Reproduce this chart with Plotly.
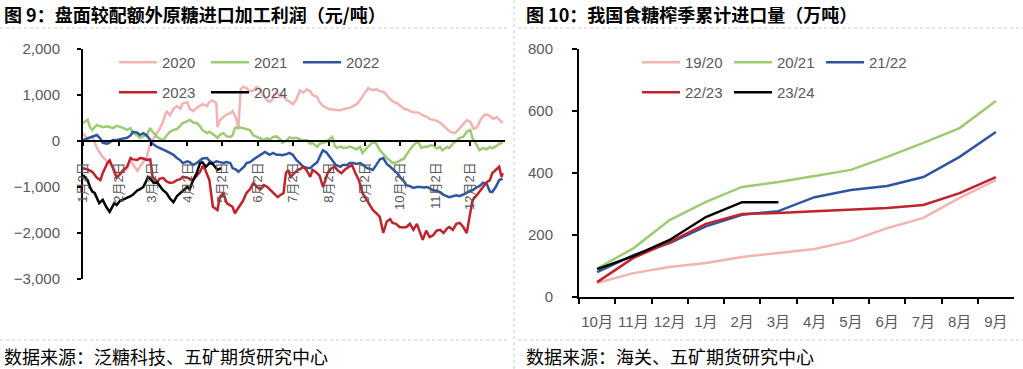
import numpy as np
import pandas as pd
import plotly.graph_objects as go

# ---------------- Left chart data (day-of-year, value in 元/吨) ----------------
d2020 = [2, 6, 10, 14, 19, 23, 28, 31, 36, 40, 43, 45, 49, 51, 54, 57, 60, 62, 66, 68, 71, 74, 77, 80, 83, 86, 88,
         92, 94, 97, 100, 103, 105, 109, 111, 114, 117, 118, 120, 123, 126, 129, 131, 134, 136, 138, 140, 143, 146,
         149, 152, 155, 157, 161, 163, 166, 169, 172, 174, 178, 180, 183, 186, 189, 192, 195, 198, 200, 204, 206,
         209, 212, 215, 219, 221, 224, 228, 232, 235, 238, 241, 244, 248, 250, 252, 255, 258, 261, 264, 267, 270,
         273, 276, 279, 282, 285, 288, 291, 295, 299, 301, 304, 307, 310, 313, 316, 319, 323, 327, 330, 333, 336,
         339, 342, 345, 348, 350, 353, 356, 359, 362, 364]
v2020 = [170, 50, 100, -150, -350, -450, -560, -700, -680, -600, -420, -500, -650, -560, -450, -350, -60, 20, 200,
         260, 420, 650, 560, 700, 760, 700, 820, 840, 700, 650, 720, 760, 800, 760, 850, 880, 820, 300, 450, 520,
         580, 600, 650, 500, 250, 1120, 1180, 1150, 1080, 1100, 1170, 1120, 1000, 880, 850, 920, 1070, 960, 1000,
         880, 860, 800, 900, 1100, 1050, 1120, 1080, 1000, 960, 850, 760, 720, 690, 680, 670, 670, 700, 720, 760,
         800, 890, 1000, 1150, 1120, 1100, 1130, 1080, 1070, 1000, 900, 850, 820, 760, 700, 680, 640, 620, 620,
         560, 520, 480, 460, 440, 400, 320, 260, 200, 170, 280, 360, 450, 420, 260, 300, 470, 560, 580, 540, 480,
         520, 430, 390]

d2021 = [2, 6, 8, 10, 14, 19, 23, 28, 31, 36, 40, 43, 45, 49, 51, 54, 57, 60, 62, 66, 68, 71, 74, 77, 80, 83, 86,
         88, 92, 94, 97, 100, 103, 105, 109, 111, 114, 118, 120, 123, 126, 129, 131, 133, 137, 140, 143, 146, 149,
         152, 155, 157, 161, 163, 166, 169, 172, 174, 178, 180, 183, 186, 189, 192, 195, 198, 200, 204, 206, 209,
         212, 215, 217, 219, 221, 224, 226, 230, 232, 235, 238, 241, 243, 247, 249, 252, 255, 258, 261, 264, 267,
         269, 273, 276, 279, 281, 284, 286, 290, 292, 294, 297, 299, 302, 304, 307, 310, 312, 316, 318, 321, 324,
         327, 330, 333, 336, 338, 342, 344, 347, 350, 353, 355, 359, 361, 364]
v2021 = [390, 460, 300, 240, 350, 300, 320, 280, 330, 290, 240, 280, 170, 120, 70, 100, 130, 280, 200, 90, 50, 20,
         120, 200, 240, 260, 330, 390, 430, 460, 400, 390, 320, 240, 170, 200, 150, 70, 130, 170, 100, 90, 120, 280,
         300, 280, 260, 240, 120, 90, 60, 20, 60, 30, 90, 100, 40, -40, 20, 80, 60, 70, 40, 10, 20, -60, -40, -130,
         -60, -40, -20, 50, 90, -100, -150, -120, -150, -140, -120, -150, -180, -130, -260, -150, -90, -20, -60,
         -200, -280, -370, -430, -480, -460, -420, -380, -300, -200, -120, -20, -60, -150, -120, -130, -90, -100,
         -160, -130, -200, -130, -150, -60, 0, 70, 90, 200, 240, 60, -100, -200, -150, -180, -130, -160, -100, -60,
         -40]

d2022 = [2, 6, 10, 14, 17, 19, 23, 26, 28, 32, 36, 40, 43, 45, 49, 51, 54, 57, 60, 62, 66, 68, 71, 74, 77, 80, 83,
         86, 88, 92, 94, 97, 100, 103, 105, 109, 111, 114, 117, 120, 123, 126, 129, 131, 134, 136, 139, 141, 143,
         146, 149, 152, 155, 157, 159, 161, 163, 166, 169, 172, 174, 178, 180, 183, 186, 189, 192, 195, 198, 201,
         204, 207, 209, 212, 215, 217, 220, 224, 226, 230, 232, 235, 238, 241, 244, 247, 249, 252, 255, 258, 261,
         264, 267, 270, 273, 276, 279, 281, 284, 287, 290, 293, 296, 299, 302, 304, 307, 310, 313, 316, 318, 321,
         324, 327, 330, 333, 336, 338, 342, 344, 347, 350, 353, 355, 358, 361, 364]
v2022 = [20, 60, 100, 130, 50, -40, -60, 0, 20, 30, 50, 70, 120, 200, 180, 130, 170, 120, 20, -60, -130, -150, -180,
         -220, -260, -300, -370, -420, -480, -440, -460, -520, -480, -410, -380, -370, -430, -480, -440, -460, -480,
         -460, -480, -590, -620, -670, -600, -560, -480, -460, -400, -350, -300, -280, -240, -270, -300, -260, -300,
         -300, -310, -280, -260, -300, -410, -480, -560, -580, -590, -520, -460, -300, -200, -250, -370, -420, -520,
         -560, -520, -520, -480, -480, -500, -480, -530, -590, -600, -630, -520, -400, -370, -500, -560, -620, -700,
         -800, -880, -960, -980, -1020, -1000, -1000, -1010, -1000, -1050, -1070, -1080, -1110, -1170, -1200, -1220,
         -1200, -1180, -1200, -1170, -1130, -1080, -1070, -1000, -980, -910, -920, -1100, -1110, -1000, -850, -820]

d2023 = [2, 6, 10, 14, 17, 19, 23, 25, 28, 31, 34, 36, 40, 43, 45, 49, 51, 54, 57, 60, 62, 66, 68, 71, 74, 77, 80,
         83, 86, 88, 92, 94, 97, 100, 103, 105, 107, 111, 114, 118, 120, 123, 126, 129, 131, 133, 137, 140, 143, 146,
         149, 152, 155, 158, 161, 164, 167, 170, 172, 175, 177, 179, 181, 184, 187, 190, 192, 195, 198, 200, 203, 206,
         209, 211, 213, 216, 219, 222, 225, 228, 231, 234, 237, 240, 243, 246, 249, 252, 255, 258, 261, 264, 267, 269,
         272, 275, 278, 281, 284, 287, 290, 293, 295, 298, 301, 304, 307, 310, 313, 316, 318, 321, 324, 327, 330, 333,
         335, 337, 338, 341, 344, 347, 350, 353, 355, 358, 361, 363, 364]
v2023 = [-590, -620, -670, -800, -850, -700, -480, -420, -600, -800, -720, -650, -560, -370, -400, -410, -370, -380,
         -410, -400, -780, -890, -820, -800, -880, -910, -900, -850, -830, -780, -800, -820, -850, -760, -670, -560,
         -600, -850, -1430, -1500, -1220, -1130, -1350, -1400, -1430, -1570, -1430, -1300, -1130, -1050, -910, -1000,
         -1050, -960, -1000, -1070, -1150, -1220, -1180, -1130, -700, -630, -780, -700, -630, -600, -560, -640, -780,
         -630, -680, -750, -1000, -850, -700, -600, -560, -650, -700, -620, -560, -520, -700, -850, -1130, -1250,
         -1350, -1500, -1570, -1650, -2000, -1750, -1700, -1780, -1800, -1870, -1880, -1870, -1800, -1930, -1800,
         -2000, -2150, -1950, -2090, -2050, -1950, -1930, -2000, -1900, -1870, -1930, -1800, -1780, -1870, -2000,
         -1720, -1500, -1280, -1200, -1100, -1000, -900, -850, -700, -630, -560, -780, -700]

d2024 = [2, 6, 8, 10, 12, 14, 16, 19, 22, 25, 27, 29, 31, 34, 36, 40, 43, 45, 49, 51, 54, 56, 58, 60, 63, 66, 68,
         71, 74, 77, 80, 83, 86, 88, 92, 94, 97, 100, 103, 105, 108, 111, 114, 118, 121]
v2024 = [-740, -850, -1000, -1100, -1130, -1250, -1350, -1280, -1430, -1540, -1450, -1350, -1390, -1300, -1280,
         -1240, -1200, -1170, -1070, -1050, -1000, -900, -780, -820, -910, -900, -960, -1070, -1130, -1250, -1330,
         -1200, -1130, -1080, -1000, -1050, -850, -700, -480, -460, -560, -480, -500, -630, -590]

left_names = ["2020", "2021", "2022", "2023", "2024"]
left_tick_months = list(range(1, 13))

# ---------------- Right chart data (万吨) ----------------
months_r = ["10月", "11月", "12月", "1月", "2月", "3月", "4月", "5月", "6月", "7月", "8月", "9月"]
s1920 = [45, 77, 97, 110, 129, 142, 155, 181, 222, 255, 320, 377]
s2021 = [92, 157, 248, 307, 355, 371, 390, 410, 452, 497, 545, 632]
s2122 = [80, 135, 174, 228, 265, 277, 322, 345, 358, 387, 452, 532]
s2223 = [48, 126, 177, 236, 268, 271, 277, 283, 287, 297, 335, 387]
s2324 = [90, 132, 184, 258, 306, 306]

right_names = ["19/20", "20/21", "21/22", "22/23", "23/24"]

colors = ["#F4B3B3", "#9DCB72", "#2E56A0", "#C0232B", "#000000"]

W, H = 1023, 369
def px_x(p):
    return p / W
def px_y(p):
    return 1 - p / H

def doy_to_date(d):
    return pd.Timestamp("2021-01-01") + pd.to_timedelta(np.array(d) - 1, unit="D")

fig = go.Figure()

left_days = [d2020, d2021, d2022, d2023, d2024]
left_vals = [v2020, v2021, v2022, v2023, v2024]
left_leg = ["legend", "legend", "legend", "legend2", "legend2"]
for i in range(5):
    fig.add_trace(go.Scatter(
        x=doy_to_date(left_days[i]), y=left_vals[i], mode="lines", name=left_names[i],
        line=dict(color=colors[i], width=2.5), xaxis="x", yaxis="y", legend=left_leg[i]))

right_vals = [s1920, s2021, s2122, s2223, s2324]
right_leg = ["legend3", "legend3", "legend3", "legend4", "legend4"]
for i in range(5):
    fig.add_trace(go.Scatter(
        x=months_r[:len(right_vals[i])], y=right_vals[i], mode="lines", name=right_names[i],
        line=dict(color=colors[i], width=2.5), xaxis="x2", yaxis="y2", legend=right_leg[i]))

FAM = "Liberation Sans, Noto Sans CJK SC"
tick_font = dict(family=FAM, size=15, color="#595959")
leg_font = dict(family=FAM, size=15, color="#595959")

left_dom_x = [px_x(83), px_x(505)]
left_dom_y = [px_y(279), px_y(49)]
right_dom_x = [px_x(579), px_x(1014)]
right_dom_y = [px_y(297), px_y(49)]

tickvals_left = [pd.Timestamp(2021, m, 2) for m in left_tick_months]
ticktext_left = [f"{m}月2日" for m in left_tick_months]

axis_common = dict(showline=True, linecolor="black", linewidth=2, showgrid=False, zeroline=False,
                   ticks="outside", tickcolor="black", tickwidth=1.5, automargin=False)

fig.update_layout(
    width=W, height=H, margin=dict(l=0, r=0, t=0, b=0, autoexpand=False),
    paper_bgcolor="white", plot_bgcolor="rgba(0,0,0,0)",
    xaxis=dict(domain=left_dom_x, type="date",
               range=[pd.Timestamp("2021-01-02"), pd.Timestamp("2022-01-01")],
               anchor="free", position=px_y(141),
               tickvals=tickvals_left, ticktext=ticktext_left, tickangle=-90, ticklen=4,
               tickfont=dict(family=FAM, size=13, color="#595959"),
               ticklabelstandoff=11, **axis_common),
    yaxis=dict(domain=left_dom_y, range=[-3000, 2000], dtick=1000, tickformat=",",
               anchor="x", ticklen=4, tickfont=tick_font, ticklabelstandoff=14, **axis_common),
    xaxis2=dict(domain=right_dom_x, type="category", range=[-0.5, 11.5], categoryorder="array",
                categoryarray=months_r, anchor="y2", tickson="boundaries", ticklen=5, tickangle=0,
                tickfont=dict(family=FAM, size=15, color="#595959"),
                ticklabelstandoff=10, **axis_common),
    yaxis2=dict(domain=right_dom_y, range=[0, 800], dtick=200, anchor="x2", ticklen=5,
                tickfont=tick_font, ticklabelstandoff=16, **axis_common),
    legend=dict(orientation="h", x=px_x(114), y=px_y(46), xanchor="left", yanchor="top",
                font=leg_font, bgcolor="rgba(0,0,0,0)", entrywidth=39, itemwidth=38),
    legend2=dict(orientation="h", x=px_x(114), y=px_y(76), xanchor="left", yanchor="top",
                 font=leg_font, bgcolor="rgba(0,0,0,0)", entrywidth=39, itemwidth=38),
    legend3=dict(orientation="h", x=px_x(637), y=px_y(46), xanchor="left", yanchor="top",
                 font=leg_font, bgcolor="rgba(0,0,0,0)", entrywidth=39, itemwidth=38),
    legend4=dict(orientation="h", x=px_x(637), y=px_y(76), xanchor="left", yanchor="top",
                 font=leg_font, bgcolor="rgba(0,0,0,0)", entrywidth=39, itemwidth=38),
    showlegend=True,
)

title_font = dict(family="Noto Sans CJK SC", size=18, color="black", weight="bold")
src_font = dict(family="Noto Sans CJK SC", size=18, color="black")
fig.add_annotation(text="图 9：盘面较配额外原糖进口加工利润（元/吨）", x=px_x(2), y=px_y(14),
                   xref="paper", yref="paper", xanchor="left", yanchor="middle", showarrow=False, font=title_font)
fig.add_annotation(text="图 10：我国食糖榨季累计进口量（万吨）", x=px_x(524), y=px_y(14),
                   xref="paper", yref="paper", xanchor="left", yanchor="middle", showarrow=False, font=title_font)
fig.add_annotation(text="数据来源：泛糖科技、五矿期货研究中心", x=px_x(2), y=px_y(356),
                   xref="paper", yref="paper", xanchor="left", yanchor="middle", showarrow=False, font=src_font)
fig.add_annotation(text="数据来源：海关、五矿期货研究中心", x=px_x(524), y=px_y(356),
                   xref="paper", yref="paper", xanchor="left", yanchor="middle", showarrow=False, font=src_font)

dash = dict(color="#C8C8C8", width=1, dash="dot")
for (x0, y0, x1, y1) in [(0, 28, 508, 28), (0, 340, 508, 340), (518, 28, 1023, 28), (518, 340, 1023, 340),
                         (514, 0, 514, 369)]:
    fig.add_shape(type="line", xref="paper", yref="paper", x0=px_x(x0), x1=px_x(x1), y0=px_y(y0), y1=px_y(y1),
                  line=dash)

fig.write_html("out.html", config={"displayModeBar": False},
               post_script="document.body.style.margin='0';document.body.style.padding='0';"
                           "document.body.style.overflow='hidden';")
